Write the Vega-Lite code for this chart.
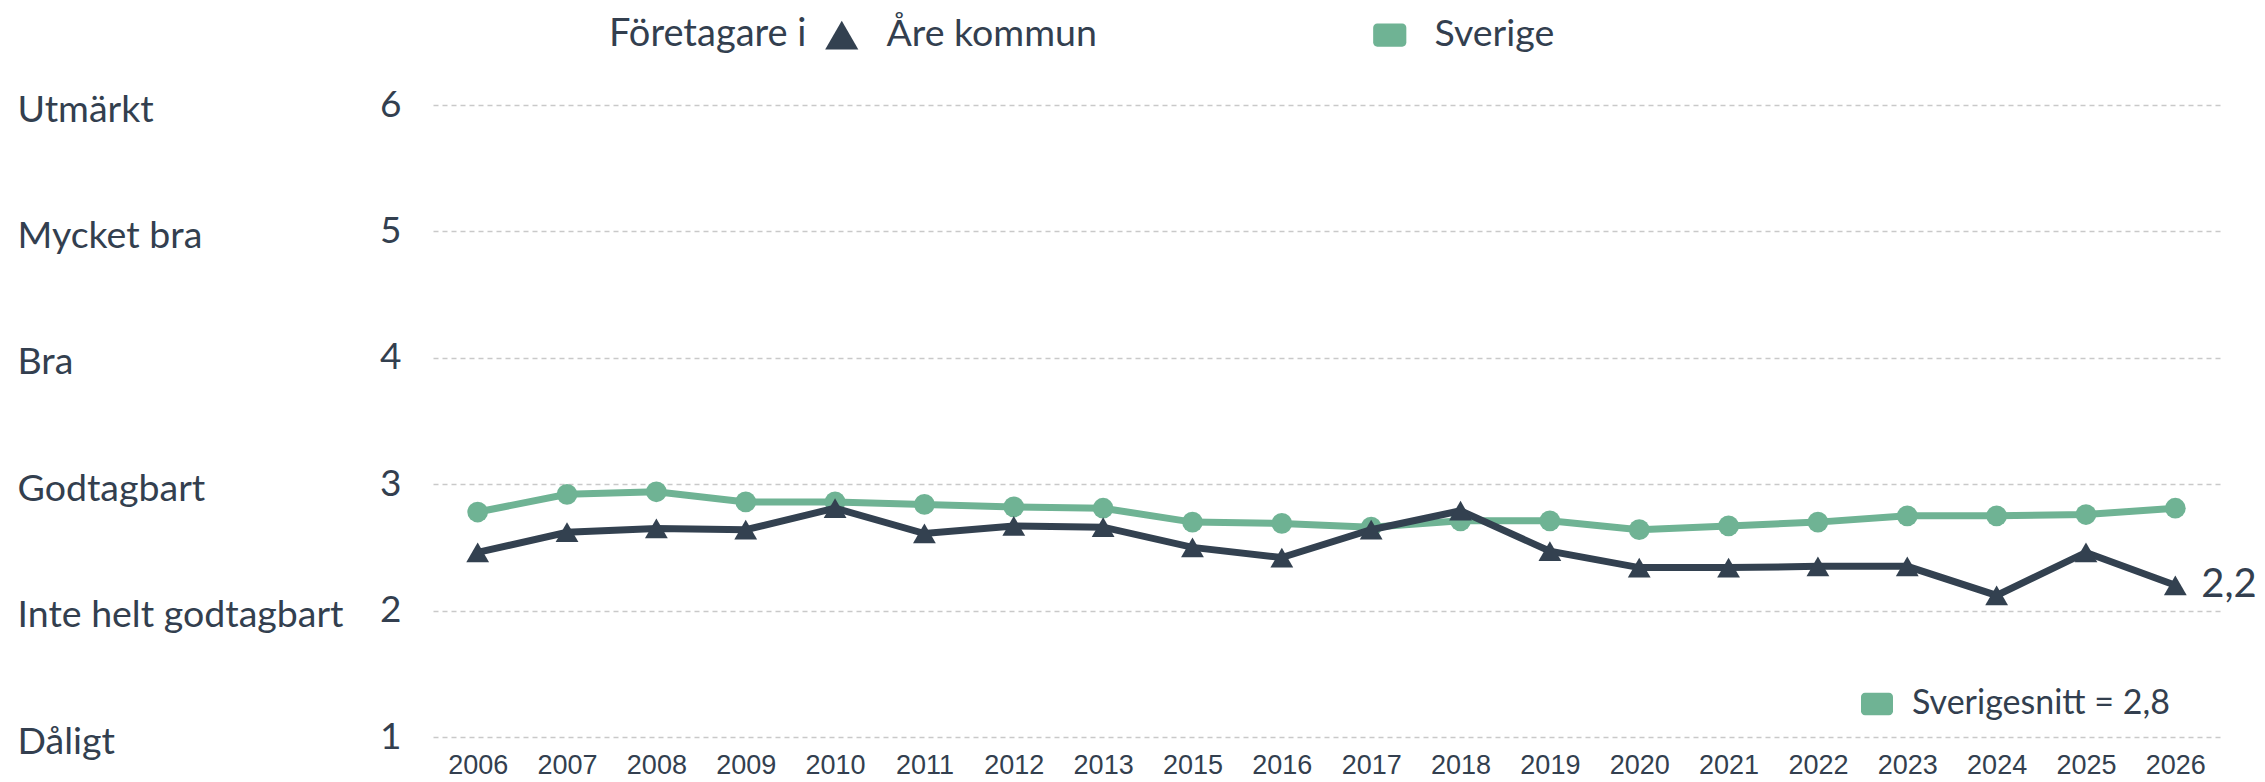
{
  "$schema": "https://vega.github.io/schema/vega-lite/v6.json",
  "width": 1787,
  "height": 632,
  "autosize": {"type": "none"},
  "padding": {"left": 433, "top": 105, "right": 45, "bottom": 45},
  "background": "white",
  "data": {
    "values": [
      {"year": "2006", "series": "Åre kommun", "value": 2.46},
      {"year": "2007", "series": "Åre kommun", "value": 2.62},
      {"year": "2008", "series": "Åre kommun", "value": 2.65},
      {"year": "2009", "series": "Åre kommun", "value": 2.64},
      {"year": "2010", "series": "Åre kommun", "value": 2.81},
      {"year": "2011", "series": "Åre kommun", "value": 2.61},
      {"year": "2012", "series": "Åre kommun", "value": 2.67},
      {"year": "2013", "series": "Åre kommun", "value": 2.66},
      {"year": "2015", "series": "Åre kommun", "value": 2.50},
      {"year": "2016", "series": "Åre kommun", "value": 2.42},
      {"year": "2017", "series": "Åre kommun", "value": 2.64},
      {"year": "2018", "series": "Åre kommun", "value": 2.79},
      {"year": "2019", "series": "Åre kommun", "value": 2.47},
      {"year": "2020", "series": "Åre kommun", "value": 2.34},
      {"year": "2021", "series": "Åre kommun", "value": 2.34},
      {"year": "2022", "series": "Åre kommun", "value": 2.35},
      {"year": "2023", "series": "Åre kommun", "value": 2.35},
      {"year": "2024", "series": "Åre kommun", "value": 2.12},
      {"year": "2025", "series": "Åre kommun", "value": 2.46},
      {"year": "2026", "series": "Åre kommun", "value": 2.20},
      {"year": "2006", "series": "Sverige", "value": 2.78},
      {"year": "2007", "series": "Sverige", "value": 2.92},
      {"year": "2008", "series": "Sverige", "value": 2.94},
      {"year": "2009", "series": "Sverige", "value": 2.86},
      {"year": "2010", "series": "Sverige", "value": 2.86},
      {"year": "2011", "series": "Sverige", "value": 2.84},
      {"year": "2012", "series": "Sverige", "value": 2.82},
      {"year": "2013", "series": "Sverige", "value": 2.81},
      {"year": "2015", "series": "Sverige", "value": 2.70},
      {"year": "2016", "series": "Sverige", "value": 2.69},
      {"year": "2017", "series": "Sverige", "value": 2.66},
      {"year": "2018", "series": "Sverige", "value": 2.71},
      {"year": "2019", "series": "Sverige", "value": 2.71},
      {"year": "2020", "series": "Sverige", "value": 2.64},
      {"year": "2021", "series": "Sverige", "value": 2.67},
      {"year": "2022", "series": "Sverige", "value": 2.70},
      {"year": "2023", "series": "Sverige", "value": 2.75},
      {"year": "2024", "series": "Sverige", "value": 2.75},
      {"year": "2025", "series": "Sverige", "value": 2.76},
      {"year": "2026", "series": "Sverige", "value": 2.81}
    ]
  },
  "layer": [
    {
      "transform": [{"filter": "datum.series === 'Sverige'"}],
      "mark": {"type": "line", "strokeWidth": 7},
      "encoding": {
        "x": {
          "field": "year", "type": "ordinal",
          "scale": {"type": "point", "padding": 0.5},
          "axis": {"title": null, "domain": false, "ticks": false, "tickSize": 0, "grid": false, "labelAngle": 0,
                   "labelFont": "Liberation Sans", "labelFontSize": 27, "labelColor": "#333f4f", "labelPadding": 15}
        },
        "y": {
          "field": "value", "type": "quantitative",
          "scale": {"domain": [1, 6], "nice": false, "zero": false},
          "axis": {"title": null, "orient": "left", "values": [1, 2, 3, 4, 5, 6], "domain": false, "ticks": false, "tickSize": 0,
                   "grid": true, "gridDash": [5, 4], "gridColor": "#c9c9c9", "gridWidth": 1.5,
                   "labelFont": "Lato", "labelFontSize": 37, "labelColor": "#333f4f", "labelPadding": 32, "labelAlign": "right", "labelBaseline": "middle"}
        },
        "color": {
          "field": "series", "type": "nominal",
          "scale": {"domain": ["Åre kommun", "Sverige"], "range": ["#334150", "#6fb394"]},
          "legend": {
            "title": "Företagare i", "orient": "none", "legendX": 176, "legendY": -89, "direction": "horizontal",
            "titleOrient": "left", "titleFont": "Lato", "titleFontSize": 38, "titleFontWeight": "normal", "titleColor": "#333f4f",
            "titleLimit": 600, "titlePadding": 16, "labelFont": "Lato", "labelFontSize": 37.5, "labelColor": "#333f4f", "labelOffset": 26,
            "columnPadding": 274, "symbolSize": 1100, "labelLimit": 0,
            "encode": {"symbols": {"update": {
              "shape": {"signal": "datum.value === 'Sverige' ? 'M-0.75,-0.7L0.75,-0.7A0.25,0.25,0,0,1,1,-0.45L1,0.45A0.25,0.25,0,0,1,0.75,0.7L-0.75,0.7A0.25,0.25,0,0,1,-1,0.45L-1,-0.45A0.25,0.25,0,0,1,-0.75,-0.7Z' : 'triangle-up'"},
              "fill": {"signal": "datum.value === 'Sverige' ? '#6fb394' : '#334150'"},
              "stroke": {"value": "transparent"},
              "strokeWidth": {"value": 0},
              "opacity": {"value": 1}
            }}}
          }
        }
      }
    },
    {
      "transform": [{"filter": "datum.series === 'Sverige'"}],
      "mark": {"type": "point", "filled": true, "shape": "circle", "size": 430, "opacity": 1},
      "encoding": {
        "x": {"field": "year", "type": "ordinal"},
        "y": {
          "field": "value", "type": "quantitative",
          "axis": {"title": null, "orient": "left", "values": [1, 2, 3, 4, 5, 6], "domain": false, "ticks": false, "tickSize": 0, "grid": false,
                   "offset": 416, "labelPadding": 0, "labelAlign": "left", "labelBaseline": "middle", "labelOffset": 5,
                   "labelFont": "Lato", "labelFontSize": 37.5, "labelColor": "#333f4f", "labelLimit": 0,
                   "labelExpr": "['', 'Dåligt', 'Inte helt godtagbart', 'Godtagbart', 'Bra', 'Mycket bra', 'Utmärkt'][datum.value]"}
        },
        "fill": {
          "datum": "Sverigesnitt = 2,8",
          "scale": {"range": ["#6fb394"]},
          "legend": {
            "title": null, "orient": "none", "legendX": 1427, "legendY": 582,
            "symbolType": "M-0.75,-0.7L0.75,-0.7A0.25,0.25,0,0,1,1,-0.45L1,0.45A0.25,0.25,0,0,1,0.75,0.7L-0.75,0.7A0.25,0.25,0,0,1,-1,0.45L-1,-0.45A0.25,0.25,0,0,1,-0.75,-0.7Z",
            "symbolSize": 1024, "symbolStrokeWidth": 0, "symbolOpacity": 1,
            "labelFont": "Lato", "labelFontSize": 34, "labelColor": "#333f4f", "labelOffset": 18, "labelLimit": 0
          }
        }
      }
    },
    {
      "transform": [{"filter": "datum.series === 'Åre kommun'"}],
      "mark": {"type": "line", "strokeWidth": 7},
      "encoding": {
        "x": {"field": "year", "type": "ordinal"},
        "y": {"field": "value", "type": "quantitative", "axis": null},
        "color": {"field": "series", "type": "nominal"}
      }
    },
    {
      "transform": [{"filter": "datum.series === 'Åre kommun'"}],
      "mark": {"type": "point", "filled": true, "shape": "triangle-up", "size": 520, "opacity": 1},
      "encoding": {
        "x": {"field": "year", "type": "ordinal"},
        "y": {"field": "value", "type": "quantitative", "axis": null},
        "color": {"field": "series", "type": "nominal"}
      }
    },
    {
      "transform": [{"filter": "datum.series === 'Åre kommun' && datum.year === '2026'"}],
      "mark": {"type": "text", "align": "left", "baseline": "middle", "dx": 26, "font": "Lato", "fontSize": 40, "color": "#333f4f"},
      "encoding": {
        "x": {"field": "year", "type": "ordinal"},
        "y": {"field": "value", "type": "quantitative", "axis": null},
        "text": {"field": "value", "type": "quantitative", "format": ".1f"}
      }
    }
  ],
  "resolve": {"axis": {"y": "independent"}},
  "config": {
    "view": {"stroke": null},
    "locale": {"number": {"decimal": ",", "thousands": " ", "grouping": [3], "currency": ["", " kr"]}}
  }
}
